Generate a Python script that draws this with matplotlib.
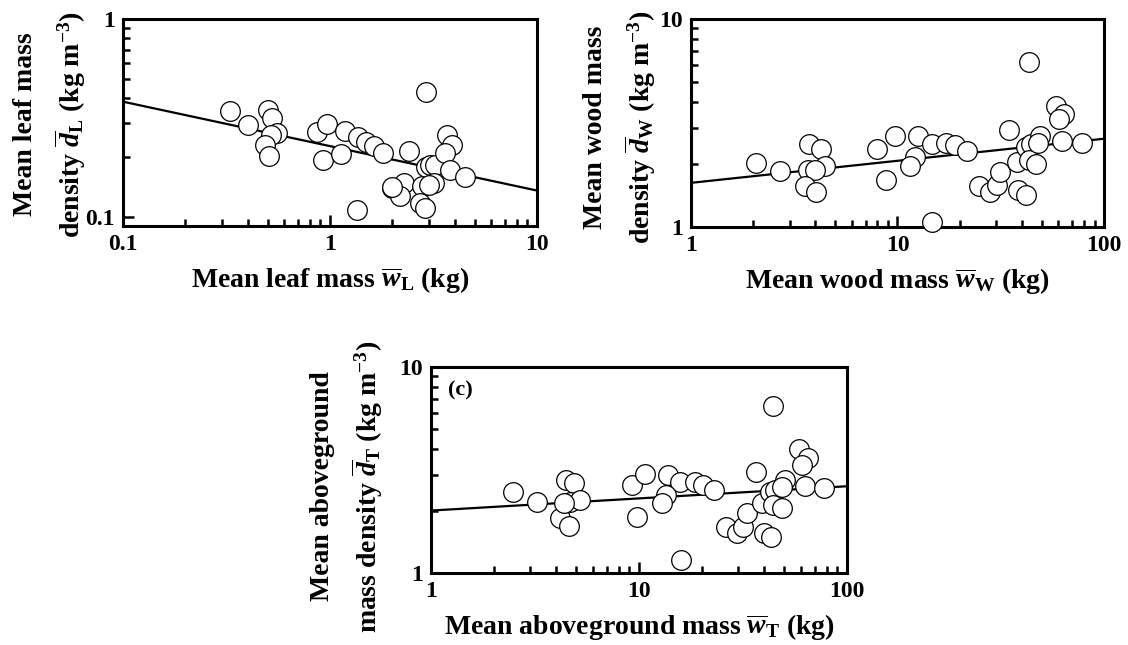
import matplotlib
matplotlib.use('Agg')
import matplotlib.pyplot as plt
import numpy as np
from matplotlib.ticker import FuncFormatter, NullFormatter, LogLocator

plt.rcParams['font.family'] = 'Liberation Serif'
plt.rcParams['font.weight'] = 'bold'
plt.rcParams['axes.labelweight'] = 'bold'
plt.rcParams['mathtext.fontset'] = 'custom'
plt.rcParams['mathtext.rm'] = 'Liberation Serif:bold'
plt.rcParams['mathtext.it'] = 'Liberation Serif:italic:bold'
plt.rcParams['mathtext.bf'] = 'Liberation Serif:bold'

# (a) leaf
leaf_mass = [0.33, 0.40, 0.50, 0.525, 0.555, 0.52, 0.485, 0.506, 0.865, 0.967, 0.928,
             1.18, 1.13, 1.36, 1.49, 1.63, 1.80, 1.35, 2.91, 2.42, 1.99, 2.28, 2.19,
             2.77, 2.72, 2.88, 2.91, 3.04, 3.21, 3.18, 3.66, 3.87, 3.59, 3.80, 4.49,
             2.0, 3.0]
leaf_density = [0.343, 0.292, 0.347, 0.316, 0.266, 0.260, 0.231, 0.203, 0.269, 0.295, 0.194,
                0.272, 0.208, 0.254, 0.240, 0.229, 0.211, 0.108, 0.430, 0.216, 0.140, 0.149, 0.128,
                0.144, 0.117, 0.111, 0.178, 0.183, 0.183, 0.148, 0.259, 0.231, 0.210, 0.173, 0.159,
                0.142, 0.145]
leaf_fit = (0.228, -0.2245)   # d = a * w^b

# (b) wood
wood_mass = [2.06, 2.70, 3.73, 4.24, 3.70, 4.47, 3.98, 3.58, 4.04, 8.0, 9.72, 8.75,
             12.5, 12.2, 11.5, 14.7, 17.2, 18.9, 21.7, 14.7, 24.7, 27.9, 30.3, 31.5,
             34.8, 37.8, 38.5, 41.8, 43.5, 41.8, 44.4, 43.5, 47.1, 49.1, 48.1, 58.3,
             63.7, 60.7, 62.4, 78.0]
wood_density = [2.03, 1.86, 2.50, 2.38, 1.88, 1.96, 1.88, 1.57, 1.47, 2.37, 2.73, 1.68,
                2.73, 2.17, 1.97, 2.50, 2.54, 2.47, 2.32, 1.06, 1.57, 1.47, 1.59, 1.84,
                2.94, 2.06, 1.50, 1.42, 6.18, 2.43, 2.50, 2.10, 2.00, 2.73, 2.52, 3.81,
                3.49, 3.29, 2.59, 2.52]
wood_fit = (1.63, 0.106)

# (c) aboveground total
total_mass = [2.49, 3.24, 4.46, 4.87, 4.17, 4.63, 4.66, 5.20, 4.36, 9.22, 10.7, 9.75,
              13.8, 15.7, 18.6, 20.4, 23.0, 13.5, 12.9, 16.0, 36.5, 26.2, 29.5, 31.7,
              32.9, 38.9, 39.9, 43.0, 44.3, 42.6, 45.1, 44.3, 48.5, 50.3, 48.5, 59.0,
              65.2, 60.5, 62.8, 77.4]
total_density = [2.47, 2.22, 2.83, 2.75, 1.85, 1.69, 2.22, 2.26, 2.18, 2.68, 3.03, 1.88,
                 2.99, 2.77, 2.77, 2.67, 2.53, 2.39, 2.19, 1.16, 3.08, 1.68, 1.56, 1.68,
                 1.95, 2.18, 1.56, 1.50, 6.47, 2.48, 2.53, 2.14, 2.06, 2.83, 2.61, 3.98,
                 3.60, 3.34, 2.64, 2.58]
total_fit = (2.01, 0.059)


def fmt(v, pos):
    return '%g' % v


def style_axis(ax, xlim, ylim):
    ax.set_xscale('log')
    ax.set_yscale('log')
    ax.set_xlim(*xlim)
    ax.set_ylim(*ylim)
    for s in ax.spines.values():
        s.set_linewidth(2.2)
    ax.tick_params(which='both', direction='in', top=False, right=False, width=1.8,
                   labelsize=17, pad=6)
    ax.tick_params(which='major', length=8)
    ax.tick_params(which='minor', length=5)
    for a in (ax.xaxis, ax.yaxis):
        a.set_major_locator(LogLocator(base=10))
        a.set_minor_locator(LogLocator(base=10, subs=np.arange(2, 10)))
        a.set_major_formatter(FuncFormatter(fmt))
        a.set_minor_formatter(NullFormatter())


def panel(ax, x, y, fit, xlim, ylim, xlabel, ylabel, ylab_x, ylab_y):
    style_axis(ax, xlim, ylim)
    xx = np.array(xlim)
    ax.plot(xx, fit[0] * xx ** fit[1], color='black', lw=1.6, zorder=2)
    ax.scatter(x, y, s=200, facecolors='white', edgecolors='black', linewidths=0.9, zorder=3,
               clip_on=False)
    ax.set_xlabel(xlabel, fontsize=20)
    ax.set_ylabel(ylabel, fontsize=20, linespacing=1.5)
    ax.xaxis.set_label_coords(0.5, -0.19)
    ax.yaxis.set_label_coords(ylab_x, ylab_y)


fig = plt.figure(figsize=(11.28, 6.45), dpi=100)

ax1 = fig.add_axes([0.1090, 0.6496, 0.3670, 0.3209])
panel(ax1, leaf_mass, leaf_density, leaf_fit, (0.1, 10), (0.09, 1),
      r'Mean leaf mass $\overline{w}_{\mathrm{L}}$ (kg)',
      'Mean leaf mass\n' + r'density $\overline{d}_{\mathrm{L}}$ (kg m$^{-3}$)', -0.085, 0.49)

ax2 = fig.add_axes([0.6126, 0.6481, 0.3661, 0.3225])
panel(ax2, wood_mass, wood_density, wood_fit, (1, 100), (1, 10),
      r'Mean wood mass $\overline{w}_{\mathrm{W}}$ (kg)',
      'Mean wood mass\n' + r'density $\overline{d}_{\mathrm{W}}$ (kg m$^{-3}$)', -0.08, 0.48)

ax3 = fig.add_axes([0.3821, 0.1116, 0.3688, 0.3194])
panel(ax3, total_mass, total_density, total_fit, (1, 100), (1, 10),
      r'Mean aboveground mass $\overline{w}_{\mathrm{T}}$ (kg)',
      'Mean aboveground\n' + r'mass density $\overline{d}_{\mathrm{T}}$ (kg m$^{-3}$)', -0.11, 0.42)
ax3.text(0.041, 0.885, '(c)', transform=ax3.transAxes, fontsize=16, va='center', ha='left')

fig.savefig('out.png', dpi=100)
